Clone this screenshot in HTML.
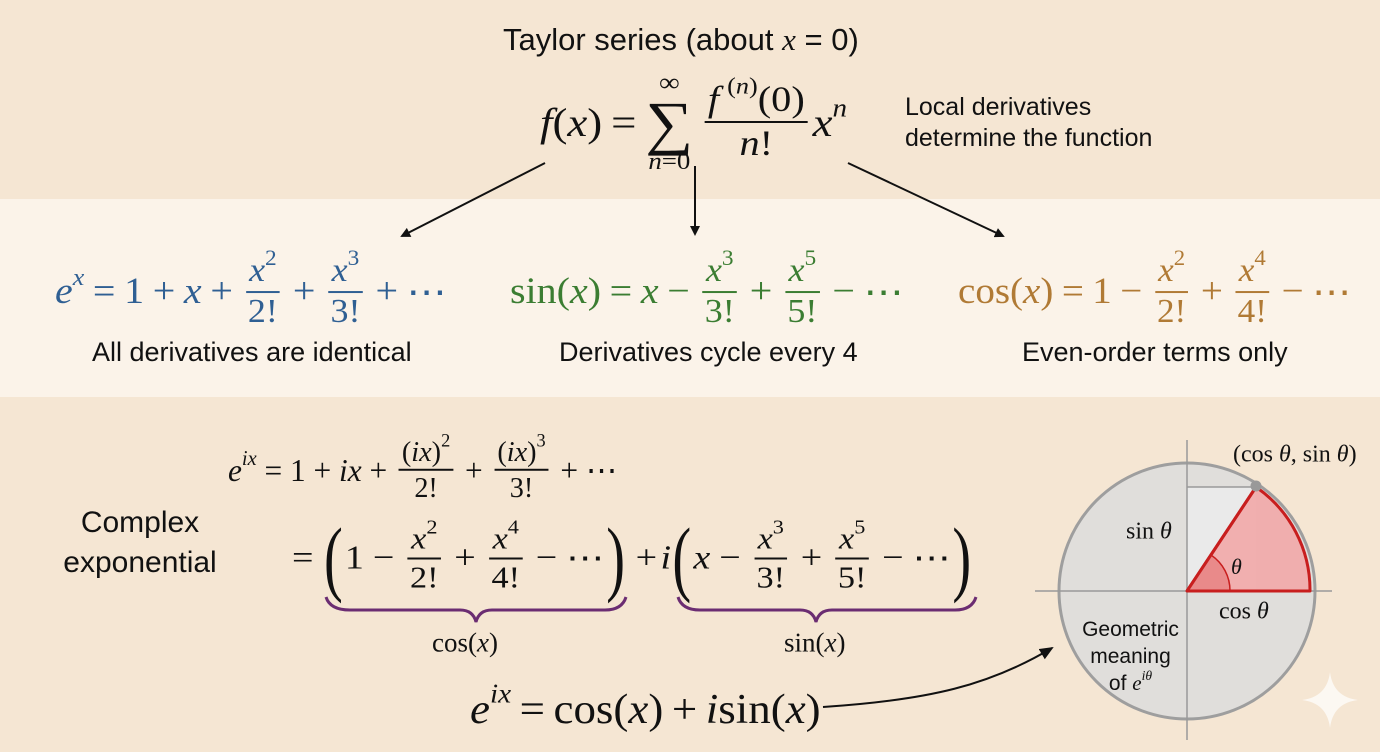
<!DOCTYPE html>
<html><head><meta charset="utf-8">
<style>
html,body{margin:0;padding:0}
body{width:1380px;height:752px;position:relative;overflow:hidden;background:#f5e6d3;font-family:"Liberation Sans","DejaVu Sans",sans-serif;color:#111}
.band{position:absolute;left:0;top:199px;width:1380px;height:198px;background:#fbf3e9}
.a{position:absolute;white-space:nowrap}
.m{font-family:"Liberation Serif","DejaVu Serif",serif;display:flex;align-items:center;transform-origin:0 0}
i{font-style:italic}
.fr{display:inline-flex;flex-direction:column;align-items:center;margin:0 4px;font-size:0.9em;line-height:1.05}
.fr>span:first-child{border-bottom:2px solid currentColor;padding:0 3px 2px}
.fr>span:last-child{padding-top:2px}
.op{margin:0 8px}
sup{font-size:0.65em;line-height:0;vertical-align:0.75em}
.t{font-size:27px}
</style></head><body>
<div class="band"></div>

<div class="a" style="left:503px;top:22px;font-size:31px">Taylor series (about <i style="font-family:'Liberation Serif',serif">x</i> = 0)</div>

<div class="a m" style="left:540px;top:122px;font-size:40px;transform:translateY(-50%) scaleX(1.12)">
 <span><i>f</i>(<i>x</i>)</span><span class="op">=</span>
 <span style="display:inline-flex;flex-direction:column;align-items:center;line-height:1;margin-right:6px">
  <span style="font-size:26px">∞</span><span style="font-size:60px;line-height:0.9">∑</span><span style="font-size:24px"><i>n</i>=0</span></span>
 <span class="fr"><span><i>f</i>&thinsp;<sup>(<i>n</i>)</sup>(0)</span><span><i>n</i>!</span></span>
 <span><i>x</i><sup><i>n</i></sup></span>
</div>
<div class="a" style="left:905px;top:92px;font-size:25px;line-height:31px">Local derivatives<br>determine the function</div>

<svg class="a" style="left:0;top:0" width="1380" height="752">
 <defs><marker id="ah" markerWidth="10" markerHeight="10" refX="8" refY="5" orient="auto" markerUnits="userSpaceOnUse"><path d="M0,0 L10,5 L0,10 Z" fill="#111"/></marker>
 <marker id="ah2" markerWidth="14" markerHeight="12" refX="12" refY="6" orient="auto" markerUnits="userSpaceOnUse"><path d="M0,0 L14,6 L0,12 Z" fill="#111"/></marker></defs>
 <line x1="545" y1="163" x2="402" y2="236" stroke="#111" stroke-width="2" marker-end="url(#ah)"/>
 <line x1="695" y1="166" x2="695" y2="234" stroke="#111" stroke-width="2" marker-end="url(#ah)"/>
 <line x1="848" y1="163" x2="1003" y2="236" stroke="#111" stroke-width="2" marker-end="url(#ah)"/>
 <path d="M326,597 Q330,610 350,610 L460,610 Q473,610 476,622 Q479,610 492,610 L605,610 Q622,610 626,597" fill="none" stroke="#6b2d72" stroke-width="3"/>
 <path d="M678,597 Q682,610 700,610 L800,610 Q813,610 816,622 Q819,610 832,610 L955,610 Q972,610 976,597" fill="none" stroke="#6b2d72" stroke-width="3"/>
 <path d="M823,707 C930,700 990,685 1052,648" fill="none" stroke="#111" stroke-width="2" marker-end="url(#ah2)"/>
 <circle cx="1187" cy="591" r="128" fill="#dcdcdc" fill-opacity="0.85" stroke="#9e9e9e" stroke-width="3"/>
 <rect x="1187" y="487" width="69" height="104" fill="#eaeaea"/>
 <line x1="1035" y1="591" x2="1332" y2="591" stroke="#999" stroke-width="1.5"/>
 <line x1="1187" y1="440" x2="1187" y2="740" stroke="#999" stroke-width="1.5"/>
 <line x1="1187" y1="487" x2="1256" y2="487" stroke="#999" stroke-width="1.5"/>
 <path d="M1187,591 L1256,487 A125,125 0 0 1 1310,591 Z" fill="#f2a9a9" fill-opacity="0.9" stroke="#c81e1e" stroke-width="3" stroke-linejoin="round"/>
 <path d="M1187,591 L1211,555 A43,43 0 0 1 1230,591 Z" fill="#e98a8a" stroke="none"/>
 <path d="M1211,555 A43,43 0 0 1 1230,591" fill="none" stroke="#c81e1e" stroke-width="1.5"/>
 <line x1="1187" y1="591" x2="1256" y2="487" stroke="#c81e1e" stroke-width="3"/>
 <line x1="1187" y1="591" x2="1310" y2="591" stroke="#c81e1e" stroke-width="3"/>
 <circle cx="1256" cy="486" r="5.5" fill="#999"/>
</svg>

<div class="a m" style="left:55px;top:292px;font-size:37px;color:#2f5f93;transform:translateY(-50%) scaleX(1.08)">
 <span><i>e</i><sup><i>x</i></sup></span><span class="op">=</span><span>1</span><span class="op">+</span><i>x</i><span class="op">+</span>
 <span class="fr"><span><i>x</i><sup>2</sup></span><span>2!</span></span><span class="op">+</span>
 <span class="fr"><span><i>x</i><sup>3</sup></span><span>3!</span></span><span class="op">+</span><span>⋯</span>
</div>
<div class="a t" style="left:92px;top:337px">All derivatives are identical</div>

<div class="a m" style="left:510px;top:292px;font-size:37px;color:#3b7d32;transform:translateY(-50%) scaleX(1.08)">
 <span>sin(<i>x</i>)</span><span class="op">=</span><i>x</i><span class="op">−</span>
 <span class="fr"><span><i>x</i><sup>3</sup></span><span>3!</span></span><span class="op">+</span>
 <span class="fr"><span><i>x</i><sup>5</sup></span><span>5!</span></span><span class="op">−</span><span>⋯</span>
</div>
<div class="a t" style="left:559px;top:337px">Derivatives cycle every 4</div>

<div class="a m" style="left:958px;top:292px;font-size:37px;color:#b07a35;transform:translateY(-50%) scaleX(1.055)">
 <span>cos(<i>x</i>)</span><span class="op">=</span><span>1</span><span class="op">−</span>
 <span class="fr"><span><i>x</i><sup>2</sup></span><span>2!</span></span><span class="op">+</span>
 <span class="fr"><span><i>x</i><sup>4</sup></span><span>4!</span></span><span class="op">−</span><span>⋯</span>
</div>
<div class="a t" style="left:1022px;top:337px">Even-order terms only</div>

<div class="a" style="left:45px;top:503px;font-size:30px;line-height:40px;text-align:center;width:190px">Complex<br>exponential</div>

<div class="a m" style="left:228px;top:470px;font-size:32px;transform:translateY(-50%) scaleX(0.98)">
 <span><i>e</i><sup><i>ix</i></sup></span><span class="op">=</span><span>1</span><span class="op">+</span><span><i>ix</i></span><span class="op">+</span>
 <span class="fr"><span>(<i>ix</i>)<sup>2</sup></span><span>2!</span></span><span class="op">+</span>
 <span class="fr"><span>(<i>ix</i>)<sup>3</sup></span><span>3!</span></span><span class="op">+</span><span>⋯</span>
</div>

<div class="a m" style="left:292px;top:558px;font-size:34px;transform:translateY(-50%) scaleX(1.12)">
 <span class="op" style="margin-left:0">=</span><span style="font-size:84px;transform:scaleX(0.6);margin:0 -4px">(</span><span>1</span><span class="op">−</span>
 <span class="fr"><span><i>x</i><sup>2</sup></span><span>2!</span></span><span class="op">+</span>
 <span class="fr"><span><i>x</i><sup>4</sup></span><span>4!</span></span><span class="op">−</span><span>⋯</span><span style="font-size:84px;transform:scaleX(0.6);margin:0 -4px">)</span>
 <span class="op" style="margin-right:3px">+</span><i>i</i><span style="font-size:84px;transform:scaleX(0.6);margin:0 -4px">(</span><i>x</i><span class="op">−</span>
 <span class="fr"><span><i>x</i><sup>3</sup></span><span>3!</span></span><span class="op">+</span>
 <span class="fr"><span><i>x</i><sup>5</sup></span><span>5!</span></span><span class="op">−</span><span>⋯</span><span style="font-size:84px;transform:scaleX(0.6);margin:0 -4px">)</span>
</div>
<div class="a m" style="left:432px;top:643px;font-size:27px;transform:translateY(-50%)">cos(<i>x</i>)</div>
<div class="a m" style="left:784px;top:643px;font-size:27px;transform:translateY(-50%)">sin(<i>x</i>)</div>

<div class="a m" style="left:470px;top:710px;font-size:42px;transform:translateY(-50%) scaleX(1.07)">
 <span><i>e</i><sup><i>ix</i></sup></span><span class="op">=</span><span>cos(<i>x</i>)</span><span class="op">+</span><span><i>i</i>sin(<i>x</i>)</span>
</div>

<div class="a m" style="left:1233px;top:455px;font-size:24px;transform:translateY(-50%)">(cos <i>&nbsp;θ</i>, sin <i>&nbsp;θ</i>)</div>
<div class="a m" style="left:1126px;top:532px;font-size:24px;transform:translateY(-50%)">sin <i>&nbsp;θ</i></div>
<div class="a m" style="left:1231px;top:567px;font-size:22px;transform:translateY(-50%)"><i>θ</i></div>
<div class="a m" style="left:1219px;top:612px;font-size:24px;transform:translateY(-50%)">cos <i>&nbsp;θ</i></div>
<div class="a" style="left:1068px;top:616px;width:125px;text-align:center;font-size:21px;line-height:27px">Geometric<br>meaning<br>of <i style="font-family:'Liberation Serif',serif">e<sup>iθ</sup></i></div>

<svg class="a" style="left:1300px;top:670px" width="60" height="60"><path d="M30,2 Q33,27 58,30 Q33,33 30,58 Q27,33 2,30 Q27,27 30,2Z" fill="#fff" opacity="0.7"/></svg>
</body></html>
